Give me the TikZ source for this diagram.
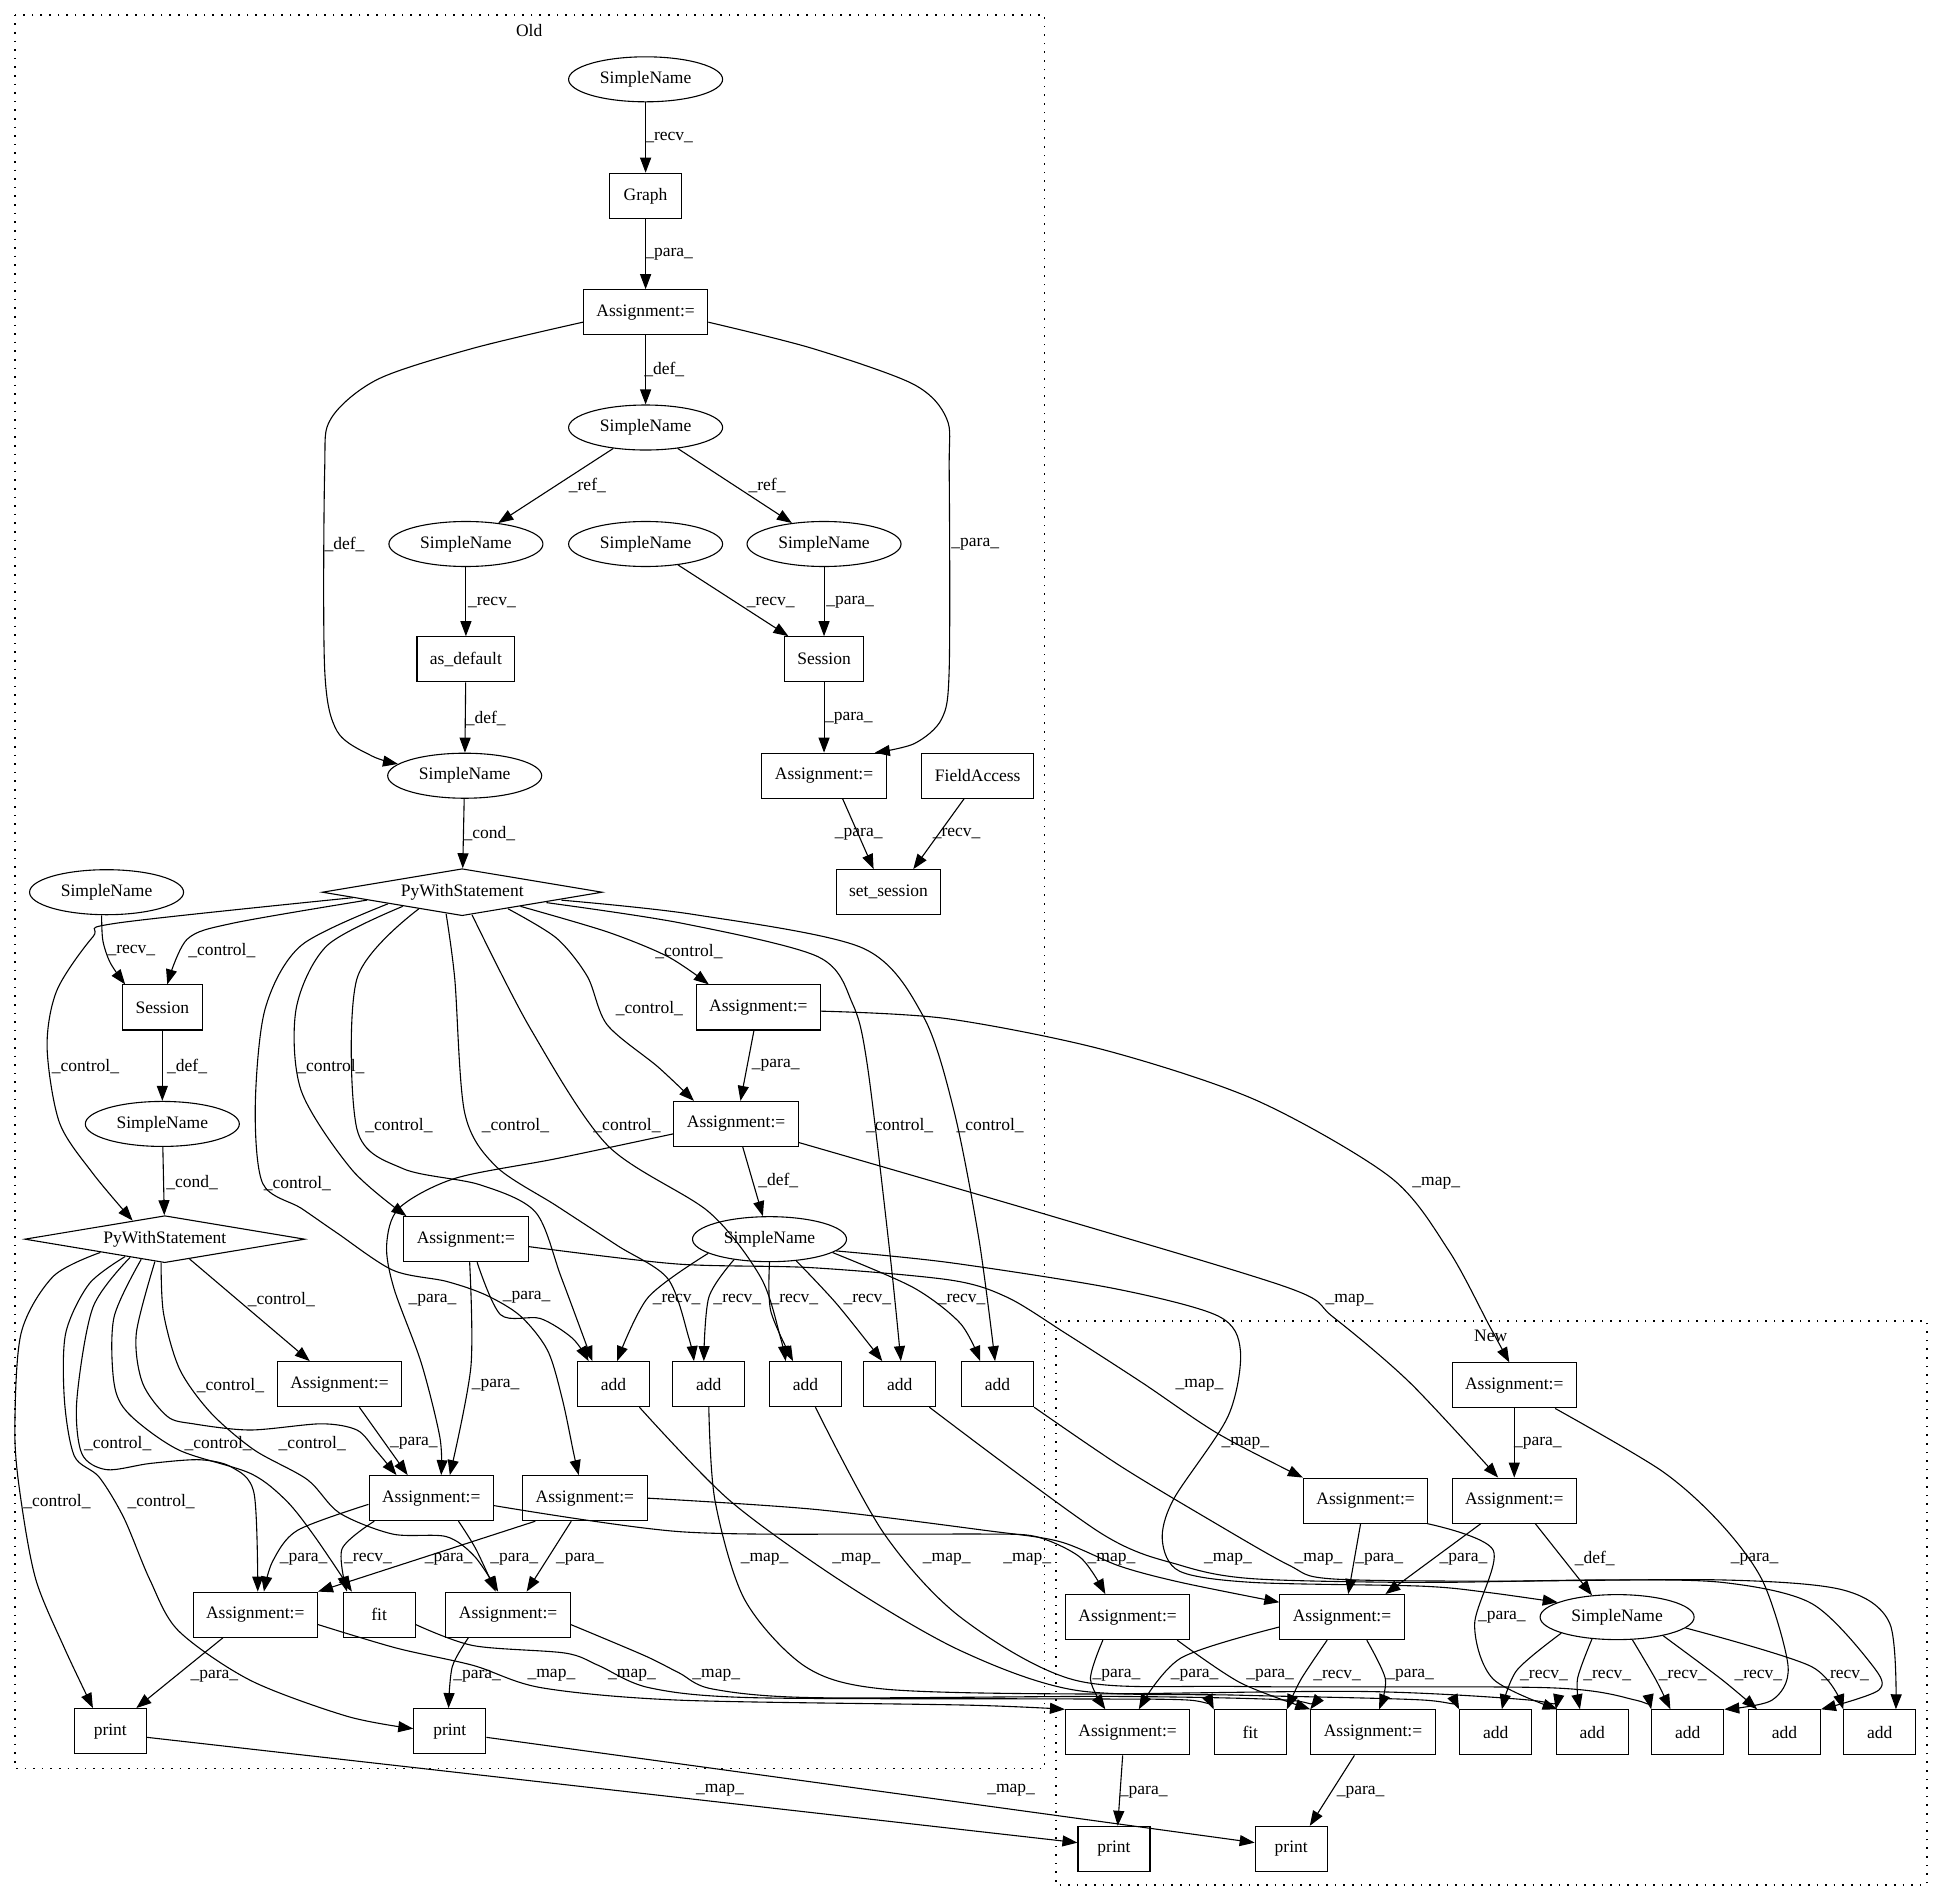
\documentclass[tikz,border=0pt]{standalone}
\usepackage{fontspec}
\setmainfont{Liberation Serif}
\usetikzlibrary{arrows.meta,shapes.geometric}

\begin{document}
\begin{tikzpicture}[x=1.239pt,y=1.239pt,
  font=\fontsize{17.5}{21}\selectfont,
  box/.style={draw,rectangle,line width=1.1pt,minimum height=45pt,minimum width=72pt,inner xsep=13pt},
  oval/.style={draw,ellipse,line width=1.1pt,minimum width=154pt,minimum height=45pt,inner sep=0pt},
  decide/.style={draw,diamond,line width=1.1pt,aspect=6,minimum width=280pt,minimum height=47pt,inner sep=0pt},
  flow/.style={line width=1.1pt,-{Triangle[length=15pt,width=11pt]}},
  lbl/.style={inner sep=0pt},
  cluster/.style={line width=1.6pt,dash pattern=on 1.6pt off 7pt}]
\useasboundingbox (0,0) rectangle (1568,-1533); % page size
% clusters
\draw[cluster] (12,-12) rectangle (843,-1427); % old version
\node at (427,-25) {Old};
\draw[cluster] (852,-1066) rectangle (1555,-1521); % new version
\node at (1203,-1078) {New};
% old: top part
\node[oval] (snTop) at (521,-64) {SimpleName};
\node[box] (graph) at (521,-158) {Graph};
\node[box] (asgGraph) at (521,-252) {Assignment:=};
\node[oval] (snDef) at (521,-345) {SimpleName};
\node[oval] (snRefA) at (376,-439) {SimpleName};
\node[oval] (snFree) at (521,-439) {SimpleName};
\node[oval] (snRefB) at (665,-439) {SimpleName};
\node[box] (asDefault) at (376,-532) {as\_default};
\node[box] (sessA) at (665,-532) {Session};
\node[oval] (snCond) at (375,-626) {SimpleName};
\node[box] (asgSess) at (665,-626) {Assignment:=};
\node[box] (fieldAcc) at (789,-626) {FieldAccess};
\node[box] (setSess) at (717,-720) {set\_session};
\node[decide] (withA) at (373,-720) {PyWithStatement};
% old: left and middle
\node[oval] (snRecv) at (86,-720) {SimpleName};
\node[box] (sessB) at (131,-813) {Session};
\node[box] (asgA) at (612,-813) {Assignment:=};
\node[box] (asgB) at (594,-907) {Assignment:=};
\node[oval] (snSess) at (131,-907) {SimpleName};
\node[decide] (withB) at (133,-1000) {PyWithStatement};
\node[box] (asgC) at (376,-1000) {Assignment:=};
\node[oval] (snMid) at (621,-1000) {SimpleName};
\node[box] (asgZ) at (274,-1117) {Assignment:=};
\node[box] (add1) at (495,-1117) {add};
\node[box] (add2) at (572,-1117) {add};
\node[box] (add3) at (650,-1117) {add};
\node[box] (add4) at (726,-1117) {add};
\node[box] (add5) at (805,-1117) {add};
\node[box] (asgD) at (348,-1209) {Assignment:=};
\node[box] (asgE) at (472,-1209) {Assignment:=};
\node[box] (asgF) at (206,-1303) {Assignment:=};
\node[box] (fitOld) at (306,-1303) {fit};
\node[box] (asgG) at (410,-1303) {Assignment:=};
\node[box] (printA) at (89,-1397) {print};
\node[box] (printB) at (363,-1397) {print};
% new
\node[box] (nA1) at (1222,-1118) {Assignment:=};
\node[box] (nA2) at (1102,-1211) {Assignment:=};
\node[box] (nA3) at (1222,-1211) {Assignment:=};
\node[box] (nA4) at (910,-1305) {Assignment:=};
\node[box] (nA5) at (1083,-1305) {Assignment:=};
\node[oval] (nSN) at (1305,-1305) {SimpleName};
\node[box] (nA6) at (910,-1398) {Assignment:=};
\node[box] (nFit) at (1009,-1398) {fit};
\node[box] (nA7) at (1108,-1398) {Assignment:=};
\node[box] (nAdd1) at (1207,-1398) {add};
\node[box] (nAdd2) at (1285,-1398) {add};
\node[box] (nAdd3) at (1362,-1398) {add};
\node[box] (nAdd4) at (1440,-1398) {add};
\node[box] (nAdd5) at (1517,-1398) {add};
\node[box] (nPrint1) at (899,-1492) {print};
\node[box] (nPrint2) at (1042,-1492) {print};
% old: edges at the top
\draw[flow] (snTop) -- (graph) node[lbl] at (540,-111) {\_recv\_};
\draw[flow] (graph) -- (asgGraph) node[lbl] at (540,-205) {\_para\_};
\draw[flow] (asgGraph) -- (snDef) node[lbl] at (536,-298) {\_def\_};
\draw[flow] plot[smooth] coordinates {([shift={(0,-8)}]asgGraph.west) (382,-281) (305,-306) (267,-338) (262,-380) (262,-540) (272,-590) (300,-610) (snCond.170)} node[lbl] at (278,-439) {\_def\_}; % long def
\draw[flow] plot[smooth] coordinates {([shift={(0,-8)}]asgGraph.east) (655,-281) (737,-310) (764,-338) (766,-380) (766,-540) (760,-580) (738,-600) ([shift={(41,0)}]asgSess.north)} node[lbl] at (787,-439) {\_para\_}; % long para
\draw[flow] (snDef) -- (snRefA) node[lbl] at (474,-392) {\_ref\_};
\draw[flow] (snDef) -- (snRefB) node[lbl] at (619,-392) {\_ref\_};
\draw[flow] (snRefA) -- (asDefault) node[lbl] at (397,-486) {\_recv\_};
\draw[flow] (snFree) -- (sessA) node[lbl] at (622,-486) {\_recv\_};
\draw[flow] (snRefB) -- (sessA) node[lbl] at (686,-486) {\_para\_};
\draw[flow] (asDefault) -- (snCond) node[lbl] at (392,-580) {\_def\_};
\draw[flow] (sessA) -- (asgSess) node[lbl] at (685,-580) {\_para\_};
\draw[flow] ([shift={(15,0)}]asgSess.south) -- ([shift={(-12,0)}]setSess.north) node[lbl] at (693,-673) {\_para\_};
\draw[flow] ([shift={(-11,0)}]fieldAcc.south) -- ([shift={(20,0)}]setSess.north) node[lbl] at (772,-673) {\_recv\_};
\draw[flow] (snCond) -- (withA) node[lbl] at (395,-673) {\_cond\_};
% old: left side
\draw[flow] plot[smooth] coordinates {([shift={(-4,0)}]snRecv.south) (83,-759) (89,-777) ([shift={(-30,0)}]sessB.north)} node[lbl] at (106,-767) {\_recv\_};
\draw[flow] plot[smooth] coordinates {([shift={(-77,13)}]withA.south) (188,-745) (151,-758) ([shift={(4,0)}]sessB.north)} node[lbl] at (179,-767) {\_control\_};
\draw[flow] (sessB) -- (snSess) node[lbl] at (151,-861) {\_def\_};
\draw[flow] (snSess) -- (withB) node[lbl] at (155,-954) {\_cond\_};
\draw[flow] plot[smooth] coordinates {([shift={(-88,15)}]withA.south) (94,-745) (75,-756) (46,-799) (38,-845) (48,-906) (75,-947) ([shift={(-26,-4.4)}]withB.north)} node[lbl] at (69,-861) {\_control\_};
% old: control from the first with
\draw[flow] plot[smooth] coordinates {([shift={(47,8)}]withA.south) (490,-752) (539,-772) ([shift={(-40,0)}]asgA.north)} node[lbl] at (556,-768) {\_control\_};
\draw[flow] plot[smooth] coordinates {([shift={(37,6)}]withA.south) (449,-757) (474,-788) (490,-827) (531,-861) ([shift={(-34,0)}]asgB.north)} node[lbl] at (524,-814) {\_control\_};
\draw[flow] plot[smooth] coordinates {([shift={(-48,8)}]withA.south) (264,-763) (239,-814) (243,-880) (284,-944) ([shift={(-48,0)}]asgC.north)} node[lbl] at (267,-861) {\_control\_};
\draw[flow] plot[smooth] coordinates {([shift={(-35,6)}]withA.south) (288,-790) (288,-911) (325,-943) (387,-956) (432,-978) (453,-1031) ([shift={(-17,0)}]add1.north)} node[lbl] at (322,-908) {\_control\_};
\draw[flow] plot[smooth] coordinates {([shift={(-13,2)}]withA.south) (367,-790) (375,-898) (400,-941) (449,-973) (498,-1005) (539,-1032) (556,-1080) ([shift={(-12,0)}]add2.north)} node[lbl] at (416,-908) {\_control\_};
\draw[flow] plot[smooth] coordinates {([shift={(8,1)}]withA.south) (428,-830) (490,-924) (572,-978) (614,-1031) (630,-1080) ([shift={(-16,0)}]add3.north)} node[lbl] at (506,-908) {\_control\_};
\draw[flow] plot[smooth] coordinates {([shift={(68,11)}]withA.south) (550,-745) (660,-772) (688,-810) (700,-860) (718,-1010) ([shift={(1,0)}]add4.north)} node[lbl] at (726,-908) {\_control\_};
\draw[flow] plot[smooth] coordinates {([shift={(80,13)}]withA.south) (560,-738) (696,-765) (745,-820) (770,-897) (790,-1000) ([shift={(-2,0)}]add5.north)} node[lbl] at (799,-908) {\_control\_};
\draw[flow] plot[smooth] coordinates {([shift={(-60,10)}]withA.south) (243,-763) (214,-814) (206,-893) (212,-955) (243,-975) (272,-995) (317,-1025) (360,-1034) (392,-1045) (420,-1062) (442,-1090) (454,-1130) (463,-1173) ([shift={(-5,0)}]asgE.north)} node[lbl] at (240,-955) {\_control\_};
% old: middle
\draw[flow] (asgA) -- (asgB) node[lbl] at (626,-860) {\_para\_};
\draw[flow] (asgB) -- (snMid) node[lbl] at (628,-953) {\_def\_};
\draw[flow] plot[smooth] coordinates {([shift={(0,-8)}]asgB.west) (449,-935) (367,-951) (322,-975) (312,-1005) (318,-1040) (340,-1100) (355,-1160) ([shift={(8,0)}]asgD.north)} node[lbl] at (349,-1049) {\_para\_};
\draw[flow] plot[smooth] coordinates {([shift={(3,0)}]asgC.south) (380,-1103) ([shift={(15,0)}]asgD.north)} node[lbl] at (400,-1118) {\_para\_};
\draw[flow] plot[smooth] coordinates {([shift={(9,0)}]asgC.south) (404,-1061) (436,-1064) (462,-1080) ([shift={(-20,0)}]add1.north)} node[lbl] at (425,-1047) {\_para\_};
\draw[flow] plot[smooth] coordinates {(snMid.193) (523,-1047) ([shift={(3,0)}]add1.north)} node[lbl] at (546,-1049) {\_recv\_};
\draw[flow] plot[smooth] coordinates {(snMid.210) (572,-1047) ([shift={(-4,0)}]add2.north)} node[lbl] at (595,-1049) {\_recv\_};
\draw[flow] plot[smooth] coordinates {(snMid.270) (622,-1058) ([shift={(-10,0)}]add3.north)} node[lbl] at (641,-1049) {\_recv\_};
\draw[flow] plot[smooth] coordinates {(snMid.321) (675,-1052) ([shift={(-14,0)}]add4.north)} node[lbl] at (700,-1049) {\_recv\_};
\draw[flow] plot[smooth] coordinates {(snMid.348) (737,-1039) (775,-1068) ([shift={(-14,0)}]add5.north)} node[lbl] at (776,-1049) {\_recv\_};
% old: control from the second with
\draw[flow] ([shift={(20,3.4)}]withB.south) -- ([shift={(-24,0)}]asgZ.north) node[lbl] at (227,-1049) {\_control\_};
\draw[flow] plot[smooth] coordinates {([shift={(-8,1.3)}]withB.south) (110,-1076) (115,-1116) (135,-1143) (156,-1149) (202,-1154) (259,-1149) (288,-1154) (303,-1170) ([shift={(-28,0)}]asgD.north)} node[lbl] at (186,-1118) {\_control\_};
\draw[flow] plot[smooth] coordinates {([shift={(-28,4.7)}]withB.south) (75,-1055) (62,-1130) (66,-1173) (86,-1186) (121,-1181) (161,-1178) (187,-1184) (205,-1205) ([shift={(2,0)}]asgF.north)} node[lbl] at (95,-1165) {\_control\_};
\draw[flow] plot[smooth] coordinates {([shift={(-19,3.2)}]withB.south) (92,-1063) (92,-1116) (104,-1141) (144,-1170) (202,-1189) (231,-1211) (254,-1240) ([shift={(-22,0)}]fitOld.north)} node[lbl] at (176,-1165) {\_control\_};
\draw[flow] plot[smooth] coordinates {([shift={(-3,0.5)}]withB.south) (132,-1060) (145,-1105) (170,-1140) (205,-1170) (248,-1194) (274,-1221) (317,-1238) (360,-1240) (383,-1256) ([shift={(-8,0)}]asgG.north)} node[lbl] at (252,-1165) {\_control\_};
\draw[flow] plot[smooth] coordinates {([shift={(-52,8.7)}]withB.south) (43,-1030) (17,-1076) (12,-1157) (17,-1211) (29,-1275) (52,-1330) ([shift={(-14,0)}]printA.north)} node[lbl] at (46,-1212) {\_control\_};
\draw[flow] plot[smooth] coordinates {([shift={(-32,5.4)}]withB.south) (72,-1036) (53,-1076) (52,-1130) (60,-1175) (80,-1192) (100,-1225) (121,-1275) (144,-1316) (202,-1356) (280,-1385) ([shift={(0,2)}]printB.west)} node[lbl] at (130,-1212) {\_control\_};
% old: bottom
\draw[flow] ([shift={(16,0)}]asgZ.south) -- ([shift={(-19,0)}]asgD.north) node[lbl] at (334,-1165) {\_para\_};
\draw[flow] plot[smooth] coordinates {([shift={(0,-5)}]asgD.west) (240,-1235) (220,-1260) ([shift={(7,0)}]asgF.north)} node[lbl] at (245,-1258) {\_para\_};
\draw[flow] plot[smooth] coordinates {([shift={(-46,0)}]asgD.south) (276,-1250) ([shift={(-26,0)}]fitOld.north)} node[lbl] at (297,-1258) {\_recv\_};
\draw[flow] plot[smooth] coordinates {([shift={(22,0)}]asgD.south) (384,-1250) ([shift={(-10,0)}]asgG.north)} node[lbl] at (415,-1258) {\_para\_};
\draw[flow] ([shift={(-40,0)}]asgE.south) -- (asgF.north east) node[lbl] at (362,-1258) {\_para\_};
\draw[flow] ([shift={(-11,0)}]asgE.south) -- ([shift={(15,0)}]asgG.north) node[lbl] at (468,-1258) {\_para\_};
\draw[flow] ([shift={(-26,0)}]asgF.south) -- ([shift={(21,0)}]printA.north) node[lbl] at (173,-1353) {\_para\_};
\draw[flow] plot[smooth] coordinates {([shift={(-32,0)}]asgG.south) (365,-1345) ([shift={(-1,0)}]printB.north)} node[lbl] at (385,-1353) {\_para\_};
% new: edges
\draw[flow] (nA1) -- (nA3) node[lbl] at (1241,-1165) {\_para\_};
\draw[flow] plot[smooth] coordinates {([shift={(33,0)}]nA1.south) (1341,-1187) (1389,-1230) (1423,-1277) (1443,-1345) (1430,-1372) (nAdd3.north east)} node[lbl] at (1416,-1258) {\_para\_};
\draw[flow] ([shift={(-4,0)}]nA2.south) -- ([shift={(5,0)}]nA5.north) node[lbl] at (1113,-1258) {\_para\_};
\draw[flow] ([shift={(-27,0)}]nA3.south) -- ([shift={(35,0)}]nA5.north) node[lbl] at (1181,-1258) {\_para\_};
\draw[flow] ([shift={(17,0)}]nA3.south) -- (nSN.139) node[lbl] at (1287,-1258) {\_def\_};
\draw[flow] plot[smooth] coordinates {([shift={(50,0)}]nA2.south) (1205,-1251) (1190,-1311) (1205,-1355) ([shift={(-28,0)}]nAdd2.north)} node[lbl] at (1212,-1305) {\_para\_};
\draw[flow] plot[smooth] coordinates {([shift={(-20,0)}]nA4.south) (880,-1355) ([shift={(-18,0)}]nA6.north)} node[lbl] at (901,-1352) {\_para\_};
\draw[flow] plot[smooth] coordinates {([shift={(40,0)}]nA4.south) (1001,-1358) (nA7.north west)} node[lbl] at (1025,-1352) {\_para\_};
\draw[flow] plot[smooth] coordinates {([shift={(0,-8)}]nA5.west) (953,-1338) ([shift={(9,0)}]nA6.north)} node[lbl] at (964,-1352) {\_para\_};
\draw[flow] plot[smooth] coordinates {([shift={(-12,0)}]nA5.south) (1050,-1355) (nFit.north east)} node[lbl] at (1079,-1352) {\_recv\_};
\draw[flow] plot[smooth] coordinates {([shift={(20,0)}]nA5.south) (1118,-1355) ([shift={(5,0)}]nA7.north)} node[lbl] at (1138,-1352) {\_para\_};
\draw[flow] plot[smooth] coordinates {(nSN.196) (1224,-1348) ([shift={(5,0)}]nAdd1.north)} node[lbl] at (1246,-1352) {\_recv\_};
\draw[flow] plot[smooth] coordinates {(nSN.221) (1273,-1355) ([shift={(-10,0)}]nAdd2.north)} node[lbl] at (1297,-1352) {\_recv\_};
\draw[flow] plot[smooth] coordinates {(nSN.304) (1336,-1355) ([shift={(-14,0)}]nAdd3.north)} node[lbl] at (1358,-1352) {\_recv\_};
\draw[flow] plot[smooth] coordinates {(nSN.338) (1389,-1355) ([shift={(-22,0)}]nAdd4.north)} node[lbl] at (1419,-1352) {\_recv\_};
\draw[flow] plot[smooth] coordinates {(nSN.351) (1462,-1345) (nAdd5.north west)} node[lbl] at (1489,-1352) {\_recv\_};
\draw[flow] ([shift={(-4,0)}]nA6.south) -- ([shift={(3,0)}]nPrint1.north) node[lbl] at (923,-1446) {\_para\_};
\draw[flow] ([shift={(-15,0)}]nA7.south) -- ([shift={(15,0)}]nPrint2.north) node[lbl] at (1098,-1446) {\_para\_};
% maps from old to new
\draw[flow] plot[smooth] coordinates {([shift={(0,-3)}]asgA.east) (764,-822) (890,-847) (1014,-888) (1122,-950) (1169,-1009) (1202,-1070) ([shift={(-4,0)}]nA1.north)} node[lbl] at (1159,-955) {\_map\_};
\draw[flow] plot[smooth] coordinates {([shift={(0,-15)}]asgB.east) (844,-980) (1039,-1039) (1076,-1063) (1138,-1116) ([shift={(-13,0)}]nA3.north)} node[lbl] at (1089,-1049) {\_map\_};
\draw[flow] plot[smooth] coordinates {([shift={(0,-6)}]asgC.east) (546,-1020) (655,-1023) (767,-1033) (813,-1047) (860,-1076) (922,-1116) (983,-1157) (nA2.north west)} node[lbl] at (968,-1118) {\_map\_};
\draw[flow] plot[smooth] coordinates {(snMid.350) (767,-1019) (900,-1040) (983,-1062) (1001,-1090) (991,-1143) (947,-1210) (938,-1243) (952,-1268) (1011,-1277) (1147,-1280) (1200,-1285) (nSN.166)} node[lbl] at (1005,-1165) {\_map\_};
\draw[flow] plot[smooth] coordinates {([shift={(21,0)}]add1.south) (589,-1211) (682,-1278) (775,-1332) (868,-1364) (1000,-1368) (1150,-1372) (nAdd1.north west)} node[lbl] at (691,-1258) {\_map\_};
\draw[flow] plot[smooth] coordinates {(add2.south) (577,-1211) (601,-1291) (650,-1345) (713,-1363) (868,-1367) (1100,-1365) (1235,-1372) (nAdd2.north west)} node[lbl] at (617,-1258) {\_map\_};
\draw[flow] plot[smooth] coordinates {([shift={(8,0)}]add3.south) (713,-1237) (775,-1305) (868,-1356) (1000,-1361) (1250,-1362) (1320,-1372) (nAdd3.north west)} node[lbl] at (764,-1258) {\_map\_};
\draw[flow] plot[smooth] coordinates {([shift={(24,0)}]add4.south) (888,-1237) (952,-1263) (1011,-1274) (1147,-1277) (1292,-1275) (1390,-1277) (1462,-1294) (1511,-1344) (1516,-1364) (nAdd4.north east)} node[lbl] at (991,-1258) {\_map\_};
\draw[flow] plot[smooth] coordinates {(add5.south east) (904,-1183) (977,-1227) (1040,-1263) (1073,-1274) (1200,-1276) (1390,-1275) (1487,-1283) (1525,-1310) ([shift={(13,0)}]nAdd5.north)} node[lbl] at (1064,-1258) {\_map\_};
\draw[flow] plot[smooth] coordinates {([shift={(0,-6)}]asgD.east) (548,-1236) (713,-1238) (795,-1238) (836,-1240) (872,-1257) ([shift={(-18,0)}]nA4.north)} node[lbl] at (897,-1258) {\_map\_};
\draw[flow] plot[smooth] coordinates {(asgE.east) (657,-1218) (795,-1235) (855,-1244) (904,-1264) (953,-1277) ([shift={(0,12)}]nA5.west)} node[lbl] at (829,-1258) {\_map\_};
\draw[flow] plot[smooth] coordinates {([shift={(0,-8)}]asgF.east) (320,-1330) (382,-1344) (437,-1362) (548,-1372) (780,-1376) (nA6.north west)} node[lbl] at (445,-1352) {\_map\_};
\draw[flow] plot[smooth] coordinates {([shift={(0,-8)}]fitOld.east) (382,-1328) (456,-1334) (483,-1344) (524,-1362) (607,-1370) (860,-1371) (960,-1372) (nFit.north west)} node[lbl] at (510,-1352) {\_map\_};
\draw[flow] plot[smooth] coordinates {([shift={(0,-8)}]asgG.east) (520,-1336) (548,-1350) (575,-1363) (657,-1370) (900,-1369) (1040,-1372) (nA7.north west)} node[lbl] at (578,-1352) {\_map\_};
\draw[flow] ([shift={(0,-5)}]printA.east) -- ([shift={(0,5)}]nPrint1.west) node[lbl] at (581,-1445) {\_map\_};
\draw[flow] ([shift={(0,-5)}]printB.east) -- ([shift={(0,5)}]nPrint2.west) node[lbl] at (816,-1445) {\_map\_};
\end{tikzpicture}
\end{document}
